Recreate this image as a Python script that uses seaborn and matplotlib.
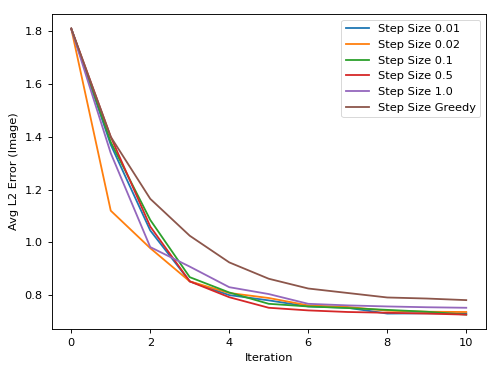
import matplotlib
matplotlib.use("Agg")
import matplotlib.pyplot as plt
import seaborn as sns
import pandas as pd

iterations = list(range(11))

step_001 = [1.81, 1.37, 1.045, 0.852, 0.800, 0.780, 0.757, 0.752, 0.730, 0.731, 0.731]
step_002 = [1.81, 1.12, 0.978, 0.852, 0.808, 0.789, 0.761, 0.755, 0.741, 0.737, 0.736]
step_01 = [1.81, 1.38, 1.085, 0.868, 0.810, 0.767, 0.757, 0.751, 0.744, 0.737, 0.726]
step_05 = [1.81, 1.40, 1.060, 0.852, 0.792, 0.752, 0.742, 0.736, 0.733, 0.730, 0.726]
step_10 = [1.81, 1.338, 0.982, 0.908, 0.830, 0.804, 0.767, 0.761, 0.757, 0.754, 0.752]
step_greedy = [1.81, 1.40, 1.165, 1.025, 0.924, 0.862, 0.825, 0.808, 0.791, 0.787, 0.781]

labels = ["Step Size 0.01", "Step Size 0.02", "Step Size 0.1",
          "Step Size 0.5", "Step Size 1.0", "Step Size Greedy"]
series = [step_001, step_002, step_01, step_05, step_10, step_greedy]

rows = []
for lab, vals in zip(labels, series):
    for it, v in zip(iterations, vals):
        rows.append({"Iteration": it, "Error": v, "Run": lab})
df = pd.DataFrame(rows)

# reference looks like a bigger figure scaled down, so shrink everything
s = 0.82
plt.rcParams.update({
    "font.size": 10 * s,
    "axes.linewidth": 0.8 * s,
    "xtick.major.size": 3.5 * s,
    "ytick.major.size": 3.5 * s,
    "xtick.major.width": 0.8 * s,
    "ytick.major.width": 0.8 * s,
})

fig, ax = plt.subplots(figsize=(5, 3.75), dpi=100)
fig.subplots_adjust(left=0.103, right=0.972, bottom=0.123, top=0.963)

sns.lineplot(data=df, x="Iteration", y="Error", hue="Run", hue_order=labels,
             palette=sns.color_palette("tab10", 6), linewidth=1.3, ax=ax)

ax.set_xlabel("Iteration")
ax.set_ylabel("Avg L2 Error (Image)")
ax.set_xticks([0, 2, 4, 6, 8, 10])
ax.set_yticks([0.8, 1.0, 1.2, 1.4, 1.6, 1.8])
ax.set_ylim(0.672, 1.866)
ax.set_xlim(-0.5, 10.5)
leg = ax.legend(loc="upper right", title=None)
leg.get_frame().set_linewidth(0.8 * s)

fig.savefig("out.png", dpi=100)
